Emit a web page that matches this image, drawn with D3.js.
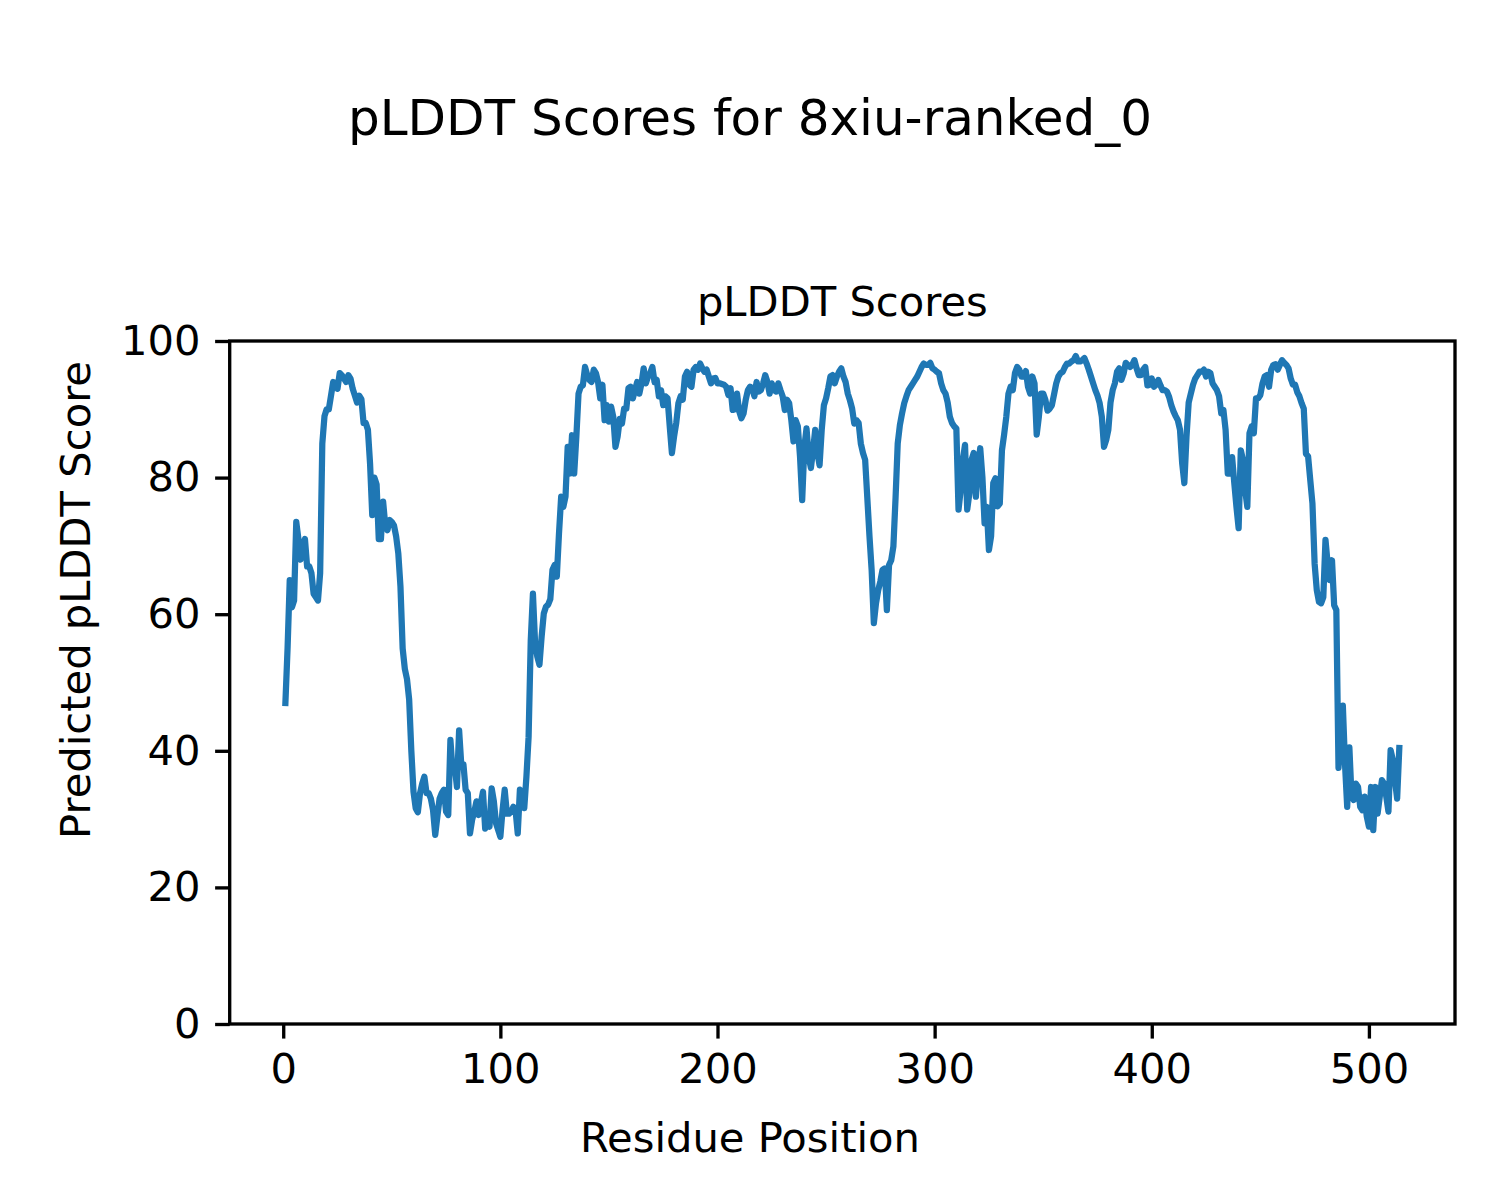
<!DOCTYPE html>
<html>
<head>
<meta charset="utf-8">
<script src="https://cdn.jsdelivr.net/npm/d3@7"></script>
<style>
html, body { margin: 0; padding: 0; background: #ffffff; }
svg { display: block; }
</style>
</head>
<body>
<script>
// ---- data, residue i+1 -> score ----
const scores = [
  47, 55, 65, 61, 62, 73.5, 71, 68, 70, 71,
  67, 67, 66, 63, 62.5, 62, 66, 85, 89, 90,
  90, 92, 94, 93.8, 93, 95.3, 95, 94.5, 94, 95,
  94.5, 93, 92, 91, 92, 91.5, 88, 88, 87, 82,
  74.5, 80, 79, 71, 71, 76.5, 73, 72.3, 73.8, 73.5,
  73, 71.4, 68.9, 64, 55, 52, 50.5, 47.5, 40, 34,
  31.6, 31, 33.8, 35.2, 36.2, 33.8, 33.8, 33, 31.3, 27.7,
  30.4, 33, 33.8, 34.3, 31.1, 30.6, 41.6, 37, 37.7, 34.7,
  43, 38, 38, 34.3, 33.8, 27.9, 29.9, 31.1, 32.6, 30.6,
  32.3, 34, 28.6, 29.4, 28.9, 34.5, 32.6, 29.4, 28.4, 27.4,
  31.3, 34.3, 30.8, 30.8, 31.1, 31.8, 31.3, 27.9, 34.3, 34,
  31.6, 36.2, 42, 56.2, 63, 55.7, 53.8, 52.6, 56.7, 60.1,
  61.1, 61.4, 62.2, 66.5, 67.2, 65.5, 71.8, 77.2, 75.7, 77.2,
  84.5, 80.6, 86.2, 80.6, 86, 92.3, 93.3, 93.5, 96.2, 95,
  94.3, 94, 95.8, 95.3, 94, 91.6, 93.6, 88.4, 90.6, 88.2,
  90.4, 88.9, 84.5, 86, 88.6, 87.9, 90.1, 90.1, 93.1, 93.3,
  91.6, 92.8, 94, 92.3, 93.8, 96, 93.8, 94.8, 95.3, 96.2,
  94, 94.3, 91.9, 92.8, 90.6, 91.9, 91.6, 87.5, 83.6, 86,
  88, 90.9, 91.9, 91.4, 94.8, 95.5, 93.6, 93.3, 95.8, 96.2,
  95.8, 96.7, 96, 95.5, 95.8, 94.8, 93.8, 94.5, 94.6, 93.8,
  93.8, 93.7, 93.6, 93.3, 92.1, 93.1, 89.9, 90, 92.3, 89.7,
  88.7, 89.4, 91.4, 92.8, 93.3, 93.1, 91.9, 94, 92.6, 92.8,
  93.8, 95, 94, 92.3, 93.8, 92.8, 92.6, 93.8, 92.8, 91.9,
  89.9, 91.4, 90.9, 88.4, 85.3, 88.4, 87.5, 83.1, 76.7, 84.5,
  87.2, 83.1, 81.4, 84, 87, 83.6, 81.8, 87, 90.6, 91.6,
  93.1, 94.8, 95, 93.8, 94.8, 95.5, 96, 94.8, 94, 92.3,
  91.3, 90.1, 87.9, 88.4, 88, 85, 83.6, 82.6, 77, 71.4,
  66.4, 58.7, 61.6, 63.5, 64.8, 66.5, 66.7, 60.6, 67.2, 67.9,
  69.9, 77, 85, 87.7, 89.4, 90.9, 91.9, 92.8, 93.3, 93.8,
  94.3, 94.8, 95.5, 96.2, 96.7, 96.5, 96.5, 96.8, 96, 95.8,
  95.5, 95.3, 93.8, 92.8, 92.3, 91, 88.9, 88, 87.5, 87.2,
  75.3, 78.2, 82.6, 84.8, 75.3, 77.7, 82.6, 83.6, 77.2, 81.6,
  84.3, 80.1, 73.3, 75.7, 69.4, 71.4, 79.2, 79.9, 75.8, 76.2,
  84, 86.3, 88.9, 92.3, 93.3, 92.8, 95.3, 96.2, 95.8, 94.8,
  94.8, 95.6, 93.3, 92.3, 94.8, 93.8, 86.3, 88.9, 92.3, 92.3,
  91.4, 89.8, 90.1, 90.6, 92.2, 93.8, 94.8, 95.3, 95.5, 96.2,
  96.7, 96.7, 97, 97.2, 97.8, 97, 97, 97.2, 97.5, 96.7,
  95.8, 94.8, 93.8, 92.8, 92, 90.9, 88.9, 84.5, 85.5, 87,
  91, 92.8, 93.8, 95.5, 96, 94.3, 95.2, 96.8, 96.5, 96.2,
  96.5, 97.2, 96, 95, 95, 95.8, 96.2, 93.5, 93.6, 94.5,
  93.3, 93.6, 94.3, 93.5, 92.8, 92.8, 92.6, 91.8, 90.6, 89.7,
  89, 88.4, 87, 82.1, 79.2, 86, 91, 92.3, 93.6, 94.5,
  95, 95.5, 95.5, 95.8, 94.8, 95.5, 95.3, 93.8, 93.3, 92.8,
  91.9, 89.4, 89.9, 87, 80.6, 80.6, 83, 79.2, 75.7, 72.6,
  84, 82.6, 78.2, 75.7, 86.5, 87.5, 86.5, 91.6, 91.6, 92.1,
  93.8, 94.8, 95, 93.3, 95.8, 96.5, 96.6, 95.8, 96.5, 97.2,
  96.8, 96.5, 96, 94.5, 93.6, 93.6, 92.5, 91.9, 90.9, 90.1,
  83.5, 83.1, 79.6, 76.2, 67.4, 63.5, 61.8, 61.6, 62.5, 70.9,
  67.4, 65, 67.9, 61.3, 60.6, 37.5, 42, 46.6, 38, 31.8,
  40.5, 33.3, 32.8, 35.2, 34.7, 31.8, 31.3, 33.3, 30.4, 28.9,
  34.7, 28.4, 34.7, 30.8, 33.3, 35.7, 35.2, 33.3, 31.1, 40.1,
  38.7, 35.7, 33, 40.4
];
const xTickValues = [0, 100, 200, 300, 400, 500];
const yTickValues = [0, 20, 40, 60, 80, 100];
const figureTitle = "pLDDT Scores for 8xiu-ranked_0";
const axesTitle = "pLDDT Scores";
const xLabelText = "Residue Position";
const yLabelText = "Predicted pLDDT Score";

// ---- layout ----
const W = 1500, H = 1200;
const pt = 300 / 72;
const plot = { left: 229.7, right: 1455, top: 341, bottom: 1024 };
const FONT = "'DejaVu Sans', 'Liberation Sans', sans-serif";
const lineColor = "#1f77b4";

const data = scores.map((v, i) => ({ residue: i + 1, score: v }));
const xMin = d3.min(data, d => d.residue), xMax = d3.max(data, d => d.residue);
const margin = (xMax - xMin) * 0.05;

const x = d3.scaleLinear().domain([xMin - margin, xMax + margin]).range([plot.left, plot.right]);
const y = d3.scaleLinear().domain([0, 100]).range([plot.bottom, plot.top]);

const svg = d3.select("body").append("svg")
  .attr("width", W).attr("height", H)
  .attr("viewBox", `0 0 ${W} ${H}`);

svg.append("rect").attr("width", W).attr("height", H).attr("fill", "#ffffff");

// clip
svg.append("clipPath").attr("id", "plotclip")
  .append("rect")
  .attr("x", plot.left).attr("y", plot.top)
  .attr("width", plot.right - plot.left).attr("height", plot.bottom - plot.top);

// line
const line = d3.line().x(d => x(d.residue)).y(d => y(d.score));
svg.append("path")
  .datum(data)
  .attr("clip-path", "url(#plotclip)")
  .attr("d", line)
  .attr("fill", "none")
  .attr("stroke", lineColor)
  .attr("stroke-width", 1.5 * pt)
  .attr("stroke-linejoin", "round")
  .attr("stroke-linecap", "square");

// axes
function styleAxis(g) {
  g.select(".domain").remove();
  g.selectAll(".tick line").attr("stroke", "#000").attr("stroke-width", 0.8 * pt);
  g.selectAll(".tick text")
    .attr("fill", "#000")
    .attr("font-family", FONT)
    .attr("font-size", 10 * pt);
}

svg.append("g")
  .attr("transform", `translate(0,${plot.bottom})`)
  .call(d3.axisBottom(x).tickValues(xTickValues).tickFormat(d3.format("d"))
    .tickSize(3.5 * pt).tickPadding(3.5 * pt).tickSizeOuter(0))
  .call(styleAxis);

svg.append("g")
  .attr("transform", `translate(${plot.left},0)`)
  .call(d3.axisLeft(y).tickValues(yTickValues).tickFormat(d3.format("d"))
    .tickSize(3.5 * pt).tickPadding(3.5 * pt).tickSizeOuter(0))
  .call(styleAxis);

// spines
svg.append("rect")
  .attr("x", plot.left).attr("y", plot.top)
  .attr("width", plot.right - plot.left).attr("height", plot.bottom - plot.top)
  .attr("fill", "none").attr("stroke", "#000").attr("stroke-width", 0.8 * pt)
  .attr("stroke-linejoin", "miter");

// texts
svg.append("text")
  .attr("x", W / 2).attr("y", 135)
  .attr("text-anchor", "middle")
  .attr("font-family", FONT).attr("font-size", 12 * pt).attr("fill", "#000")
  .text(figureTitle);

svg.append("text")
  .attr("x", (plot.left + plot.right) / 2).attr("y", plot.top - 6 * pt)
  .attr("text-anchor", "middle")
  .attr("font-family", FONT).attr("font-size", 10 * pt).attr("fill", "#000")
  .text(axesTitle);

svg.append("text")
  .attr("x", W / 2).attr("y", 1152)
  .attr("text-anchor", "middle")
  .attr("font-family", FONT).attr("font-size", 10 * pt).attr("fill", "#000")
  .text(xLabelText);

svg.append("text")
  .attr("transform", `translate(90,${H / 2}) rotate(-90)`)
  .attr("text-anchor", "middle")
  .attr("font-family", FONT).attr("font-size", 10 * pt).attr("fill", "#000")
  .text(yLabelText);
</script>
</body>
</html>
